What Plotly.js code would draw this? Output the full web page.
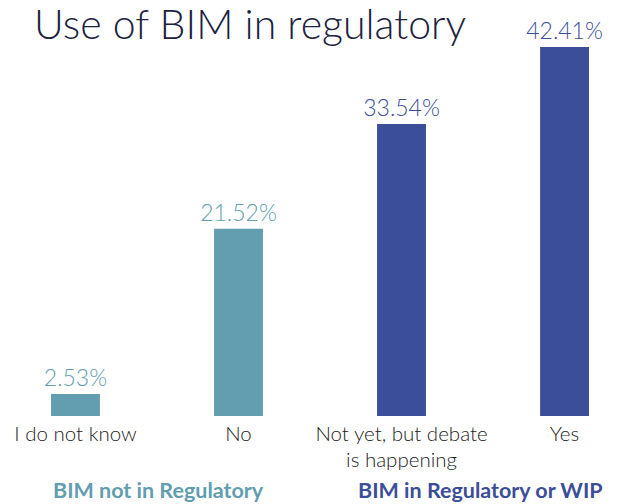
<!DOCTYPE html>
<html><head><meta charset="utf-8">
<script src="https://cdn.plot.ly/plotly-3.0.1.min.js"></script>
<style>html,body{margin:0;padding:0;background:#fff}#chart{width:619px;height:504px}</style>
</head><body><div id="chart"></div>
<script>
const categories = ["I do not know", "No", "Not yet, but debate<br>is happening", "Yes"];
const values = [2.53, 21.52, 33.54, 42.41];
const barColors = ["#629eb0", "#629eb0", "#3b4e99", "#3b4e99"];
const groupLabels = ["BIM not in Regulatory", "BIM in Regulatory or WIP"];
const groupColors = ["#629eb0", "#3b4e99"];
const titleText = "Use of BIM in regulatory";

const xIdx = categories.map((c, i) => i);
const trace = {
  type: "bar",
  x: xIdx,
  y: values,
  marker: {color: barColors},
  width: 0.3,
  text: values.map(v => v.toFixed(2) + "%"),
  textposition: "outside",
  constraintext: "none",
  textfont: {family: "Lato", size: 23, color: barColors, weight: 300},
  cliponaxis: false,
  hoverinfo: "none"
};
const layout = {
  width: 619, height: 504,
  margin: {l: 0, r: 0, t: 0, b: 88},
  paper_bgcolor: "#fff", plot_bgcolor: "#fff",
  showlegend: false,
  xaxis: {range: [-0.463, 3.334], tickvals: xIdx, ticktext: categories, showgrid: false, zeroline: false,
          showline: false, ticks: "", ticklen: 0, ticklabelstandoff: 3,
          tickfont: {family: "Lato", size: 20.5, color: "#222", weight: 300}, fixedrange: true},
  yaxis: {range: [0, 47.8], visible: false, showgrid: false, zeroline: false},
  annotations: [
    {text: titleText, xref: "paper", yref: "paper", x: 32/619, y: 1, yshift: 3, xanchor: "left", yanchor: "top", showarrow: false,
     font: {family: "Lato", size: 41, color: "#1c2240", weight: 300}},
    {text: "<b>" + groupLabels[0] + "</b>", xref: "paper", yref: "paper", x: 158/619, y: -0.179, xanchor: "center", yanchor: "middle", showarrow: false,
     font: {family: "Lato", size: 21.5, color: groupColors[0]}},
    {text: "<b>" + groupLabels[1] + "</b>", xref: "paper", yref: "paper", x: 480/619, y: -0.179, xanchor: "center", yanchor: "middle", showarrow: false,
     font: {family: "Lato", size: 21.5, color: groupColors[1]}}
  ]
};
Plotly.newPlot("chart", [trace], layout, {displayModeBar: false, staticPlot: true});
</script></body></html>
